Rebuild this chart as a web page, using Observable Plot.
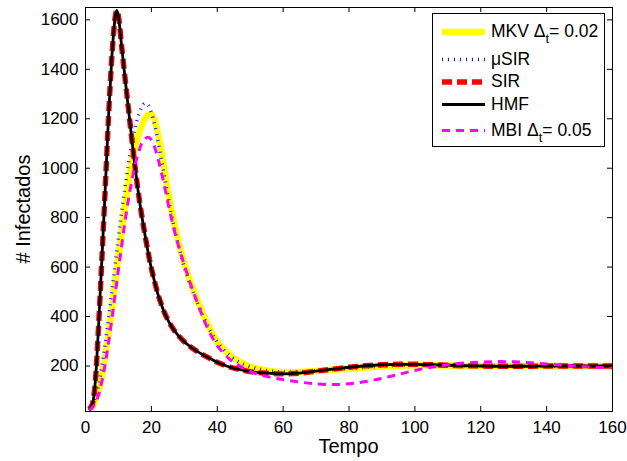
<!DOCTYPE html>
<html><head><meta charset="utf-8">
<script src="https://cdn.jsdelivr.net/npm/d3@7"></script>
<script src="https://cdn.jsdelivr.net/npm/@observablehq/plot@0.6"></script>
<style>
body{margin:0;background:#fff;}
#chart svg{display:block;}
</style></head><body><div id="chart"></div>
<script>
const tempo = [1,2,3,4,5,6,7,8,9,9.5,10,11,12,13,14,15,16,17,18,19,20,21,22,23,24,25,26,27,28,30,32,34,36,38,40,42,44,46,48,50,55,60,65,70,75,80,85,90,95,100,105,110,115,120,125,130,135,140,145,150,155,160];
const mkv = [22,35,60,100,160,240,330,430,540,590,640,740,840,935,1020,1085,1130,1168,1198,1215,1218,1195,1140,1070,990,910,840,775,715,615,535,465,400,345,300,268,243,223,208,197,182,175,176,180,185,189,194,198,201,203,203,202,201,200,200,200,200,200,200,200,200,200];
const musir = [22,38,70,125,200,290,390,500,610,665,720,825,925,1015,1095,1160,1210,1245,1262,1255,1225,1175,1110,1040,965,890,820,757,700,600,522,455,393,340,297,265,240,221,207,197,182,176,177,181,186,190,195,199,202,203,203,202,201,200,200,200,200,200,200,200,200,200];
const sir = [25,42,140,370,640,920,1210,1450,1610,1638,1615,1490,1365,1245,1125,1010,905,815,735,660,595,540,490,450,415,387,363,343,326,298,276,258,243,229,215,204,195,188,182,177,171,168,171,179,187,195,201,205,207,207,205,203,201,200,199,199,199,200,200,200,200,200];
const hmf = [25,42,140,370,640,920,1210,1450,1610,1638,1615,1490,1365,1245,1125,1010,905,815,735,660,595,540,490,450,415,387,363,343,326,298,276,258,243,229,215,204,195,188,182,177,171,168,171,179,187,195,201,205,207,207,205,203,201,200,199,199,199,200,200,200,200,200];
const mbi = [22,30,50,85,140,210,295,390,490,540,590,690,785,870,945,1010,1060,1098,1118,1125,1115,1085,1040,985,925,862,802,747,697,608,528,455,385,327,282,250,225,206,191,178,158,145,135,128,125,128,137,150,166,182,195,205,212,216,218,217,213,208,203,199,195,193];
const xTicks = [0,20,40,60,80,100,120,140,160];
const yTicks = [200,400,600,800,1000,1200,1400,1600];
const legendMain = ["MKV Δ","μSIR","SIR","HMF","MBI Δ"];
const legendSub = ["t","","","","t"];
const legendTail = ["= 0.02","","","","= 0.05"];

const W = 627, H = 461, mL = 85, mR = 15, mT = 7, mB = 50;
const innerW = W - mL - mR, innerH = H - mT - mB;

const series = [
  {values: mkv,   stroke: "#ffff00", strokeWidth: 6.5, dash: null},
  {values: musir, stroke: "#1a1aff", strokeWidth: 3.5, dash: "1,5"},
  {values: sir,   stroke: "#ff0000", strokeWidth: 5.4, dash: "10,5"},
  {values: hmf,   stroke: "#000000", strokeWidth: 2.8, dash: null},
  {values: mbi,   stroke: "#ff00ff", strokeWidth: 3,   dash: "8,6"}
];

const lineMarks = series.map(s => Plot.line(tempo, {
  x: d => d, y: (d, i) => s.values[i],
  stroke: s.stroke, strokeWidth: s.strokeWidth,
  strokeDasharray: s.dash, strokeLinecap: "butt", curve: "monotone-x"
}));

const plot = Plot.plot({
  width: W, height: H,
  marginLeft: mL, marginRight: mR, marginTop: mT, marginBottom: mB,
  style: {fontFamily: "'Liberation Sans', Arial, sans-serif", fontSize: "17px", color: "black", background: "white"},
  x: {domain: [0, 160]},
  y: {domain: [16, 1650]},
  marks: [
    ...lineMarks,
    Plot.tickY(yTicks, {y: d => d, insetRight: innerW - 5, stroke: "black"}),
    Plot.tickY(yTicks, {y: d => d, insetLeft: innerW - 5, stroke: "black"}),
    Plot.tickX(xTicks, {x: d => d, insetTop: innerH - 5, stroke: "black"}),
    Plot.tickX(xTicks, {x: d => d, insetBottom: innerH - 5, stroke: "black"}),
    Plot.frame({stroke: "black", strokeWidth: 1}),
    Plot.axisX({ticks: xTicks, tickSize: 0, tickPadding: 9, label: null, tickFormat: d => String(d)}),
    Plot.axisY({ticks: yTicks, tickSize: 0, tickPadding: 7, label: null, tickFormat: d => String(d)})
  ]
});
document.getElementById("chart").appendChild(plot);

const svg = d3.select(plot);
// axis labels
svg.append("text").attr("x", mL + innerW / 2).attr("y", 453)
  .attr("text-anchor", "middle").attr("font-size", 20).attr("fill", "black").text("Tempo");
svg.append("text").attr("transform", `translate(30,${mT + innerH / 2}) rotate(-90)`)
  .attr("text-anchor", "middle").attr("font-size", 20).attr("fill", "black").text("# Infectados");

// legend
const lg = svg.append("g");
lg.append("rect").attr("x", 432.5).attr("y", 13.5).attr("width", 172).attr("height", 133)
  .attr("fill", "white").attr("stroke", "black").attr("stroke-width", 1);
const rowY = [32, 59.5, 82, 104.5, 130.5];
series.forEach((s, i) => {
  lg.append("line").attr("x1", 442).attr("x2", 485).attr("y1", rowY[i]).attr("y2", rowY[i])
    .attr("stroke", s.stroke).attr("stroke-width", s.strokeWidth)
    .attr("stroke-dasharray", s.dash);
  const t = lg.append("text").attr("x", 491).attr("y", rowY[i] + 5)
    .attr("text-anchor", "start").attr("font-size", 17.5).attr("fill", "black");
  t.append("tspan").text(legendMain[i]);
  if (legendSub[i]) {
    t.append("tspan").attr("dy", 6).attr("font-size", 13).text(legendSub[i]);
    t.append("tspan").attr("dy", -6).text(legendTail[i]);
  }
});
</script></body></html>
